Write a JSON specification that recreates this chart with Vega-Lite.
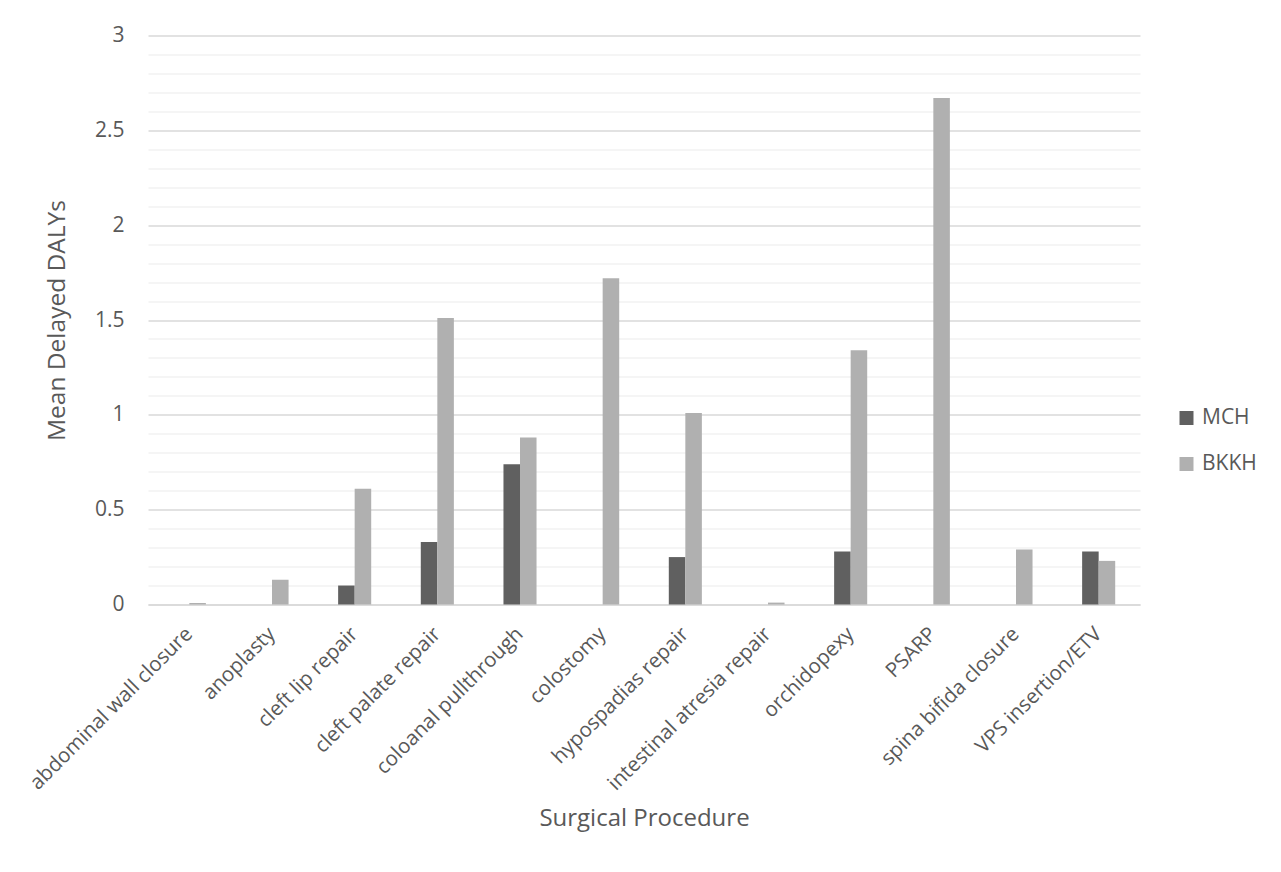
{
  "$schema": "https://vega.github.io/schema/vega-lite/v6.json",
  "autosize": {"type": "none"},
  "width": 992,
  "height": 569,
  "padding": {"left": 148, "top": 35.5, "right": 141, "bottom": 267.5},
  "background": "white",
  "config": {
    "font": "Open Sans",
    "view": {"stroke": null},
    "axis": {"labelColor": "#595959", "titleColor": "#595959", "titleFontWeight": "normal"}
  },
  "data": {
    "values": [
      {"procedure": "abdominal wall closure", "hospital": "MCH", "value": 0},
      {"procedure": "abdominal wall closure", "hospital": "BKKH", "value": 0.008},
      {"procedure": "anoplasty", "hospital": "MCH", "value": 0},
      {"procedure": "anoplasty", "hospital": "BKKH", "value": 0.13},
      {"procedure": "cleft lip repair", "hospital": "MCH", "value": 0.10},
      {"procedure": "cleft lip repair", "hospital": "BKKH", "value": 0.61},
      {"procedure": "cleft palate repair", "hospital": "MCH", "value": 0.33},
      {"procedure": "cleft palate repair", "hospital": "BKKH", "value": 1.51},
      {"procedure": "coloanal pullthrough", "hospital": "MCH", "value": 0.74},
      {"procedure": "coloanal pullthrough", "hospital": "BKKH", "value": 0.88},
      {"procedure": "colostomy", "hospital": "MCH", "value": 0},
      {"procedure": "colostomy", "hospital": "BKKH", "value": 1.72},
      {"procedure": "hypospadias repair", "hospital": "MCH", "value": 0.25},
      {"procedure": "hypospadias repair", "hospital": "BKKH", "value": 1.01},
      {"procedure": "intestinal atresia repair", "hospital": "MCH", "value": 0},
      {"procedure": "intestinal atresia repair", "hospital": "BKKH", "value": 0.01},
      {"procedure": "orchidopexy", "hospital": "MCH", "value": 0.28},
      {"procedure": "orchidopexy", "hospital": "BKKH", "value": 1.34},
      {"procedure": "PSARP", "hospital": "MCH", "value": 0},
      {"procedure": "PSARP", "hospital": "BKKH", "value": 2.67},
      {"procedure": "spina bifida closure", "hospital": "MCH", "value": 0},
      {"procedure": "spina bifida closure", "hospital": "BKKH", "value": 0.29},
      {"procedure": "VPS insertion/ETV", "hospital": "MCH", "value": 0.28},
      {"procedure": "VPS insertion/ETV", "hospital": "BKKH", "value": 0.23}
    ]
  },
  "mark": {"type": "bar"},
  "encoding": {
    "x": {
      "field": "procedure",
      "type": "nominal",
      "sort": null,
      "scale": {"paddingInner": 0.6, "paddingOuter": 0.3},
      "axis": {
        "title": "Surgical Procedure",
        "titleFontSize": 24,
        "titleY": 214,
        "titleBaseline": "middle",
        "labelAngle": -45,
        "labelAlign": "right",
        "labelBaseline": "middle",
        "labelFontSize": 20.5,
        "labelPadding": 26,
        "labelLimit": 0,
        "labelOverlap": false,
        "ticks": false,
        "domain": true,
        "domainColor": "#d9d9d9",
        "domainWidth": 1.5,
        "grid": false
      }
    },
    "xOffset": {
      "field": "hospital",
      "type": "nominal",
      "sort": ["MCH", "BKKH"],
      "scale": {"paddingInner": 0, "paddingOuter": 0}
    },
    "y": {
      "field": "value",
      "type": "quantitative",
      "scale": {"domain": [0, 3], "nice": false},
      "axis": {
        "title": "Mean Delayed DALYs",
        "titleFontSize": 24.5,
        "titleX": -91,
        "titleBaseline": "middle",
        "values": [0, 0.1, 0.2, 0.3, 0.4, 0.5, 0.6, 0.7, 0.8, 0.9, 1, 1.1, 1.2, 1.3, 1.4, 1.5, 1.6, 1.7, 1.8, 1.9, 2, 2.1, 2.2, 2.3, 2.4, 2.5, 2.6, 2.7, 2.8, 2.9, 3],
        "format": ".1~f",
        "labelExpr": "abs(datum.value*2 - round(datum.value*2)) < 0.001 ? datum.label : ''",
        "labelFontSize": 21,
        "labelPadding": 24,
        "labelOverlap": false,
        "ticks": false,
        "domain": false,
        "grid": true,
        "gridColor": {"condition": {"test": "abs(datum.value*2 - round(datum.value*2)) < 0.001", "value": "#d9d9d9"}, "value": "#f2f2f2"},
        "gridWidth": 1.5
      }
    },
    "color": {
      "field": "hospital",
      "type": "nominal",
      "sort": ["MCH", "BKKH"],
      "scale": {"domain": ["MCH", "BKKH"], "range": ["#606060", "#b0b0b0"]},
      "legend": {
        "title": null,
        "orient": "none",
        "legendX": 1028,
        "legendY": 372,
        "symbolType": "square",
        "symbolSize": 196,
        "symbolStrokeWidth": 0,
        "labelFontSize": 21,
        "labelColor": "#595959",
        "labelOffset": 5,
        "rowPadding": 24
      }
    }
  }
}
